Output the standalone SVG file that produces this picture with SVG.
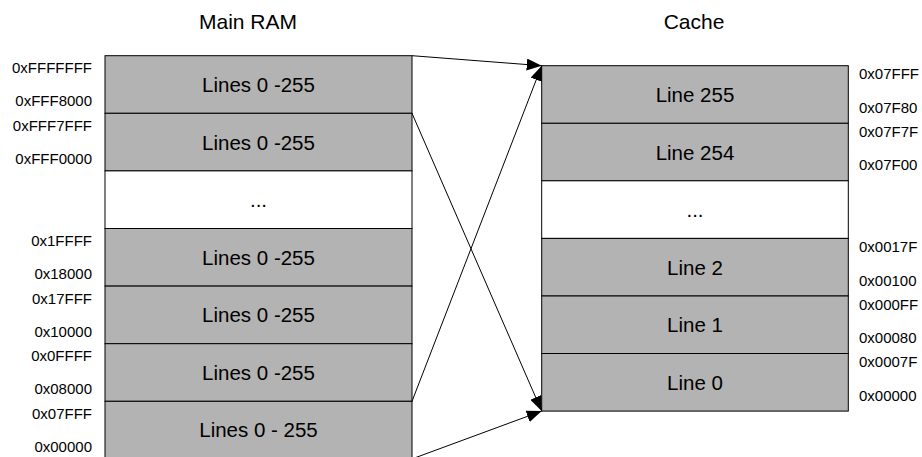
<svg xmlns="http://www.w3.org/2000/svg" width="922" height="457" viewBox="0 0 922 457">
<style>
.row{fill:#b3b3b3;stroke:#000;stroke-width:1}
.gap{fill:#fff;stroke:#000;stroke-width:1}
.lbl{font-family:"Liberation Sans",Arial,sans-serif;font-size:20.5px;fill:#000;text-anchor:middle}
.ttl{font-family:"Liberation Sans",Arial,sans-serif;font-size:21px;fill:#000;text-anchor:middle}
.adl{font-family:"Liberation Sans",Arial,sans-serif;font-size:15px;fill:#000;text-anchor:end}
.adr{font-family:"Liberation Sans",Arial,sans-serif;font-size:15px;fill:#000;text-anchor:start}
.con{stroke:#000;stroke-width:1;fill:none;marker-end:url(#ah)}
</style>
<defs>
<marker id="ah" markerUnits="userSpaceOnUse" markerWidth="16" markerHeight="12" refX="15" refY="6" orient="auto">
<path d="M0,0 L15,6 L0,12 Z" fill="#000"/>
</marker>
</defs>
<rect width="922" height="457" fill="#fff"/>
<text class="ttl" x="248" y="29">Main RAM</text>
<text class="ttl" x="694" y="29">Cache</text>
<g id="ram">
<g id="ram0"><rect class="row" x="105" y="55.7" width="307" height="57.6"/><text class="lbl" x="258.5" y="92">Lines 0 -255</text><text class="adl" x="92" y="73">0xFFFFFFF</text><text class="adl" x="92" y="106">0xFFF8000</text></g>
<g id="ram1"><rect class="row" x="105" y="113.3" width="307" height="57.6"/><text class="lbl" x="258.5" y="149.5">Lines 0 -255</text><text class="adl" x="92" y="130.5">0xFFF7FFF</text><text class="adl" x="92" y="163.5">0xFFF0000</text></g>
<g id="ram2"><rect class="gap" x="105" y="170.9" width="307" height="57.6"/><text class="lbl" x="258.5" y="207">...</text></g>
<g id="ram3"><rect class="row" x="105" y="228.5" width="307" height="57.6"/><text class="lbl" x="258.5" y="264.5">Lines 0 -255</text><text class="adl" x="92" y="246">0x1FFFF</text><text class="adl" x="92" y="279">0x18000</text></g>
<g id="ram4"><rect class="row" x="105" y="286.1" width="307" height="57.6"/><text class="lbl" x="258.5" y="322">Lines 0 -255</text><text class="adl" x="92" y="303.5">0x17FFF</text><text class="adl" x="92" y="336.5">0x10000</text></g>
<g id="ram5"><rect class="row" x="105" y="343.7" width="307" height="57.6"/><text class="lbl" x="258.5" y="379.5">Lines 0 -255</text><text class="adl" x="92" y="361">0x0FFFF</text><text class="adl" x="92" y="394">0x08000</text></g>
<g id="ram6"><rect class="row" x="105" y="401.3" width="307" height="57.6"/><text class="lbl" x="258.5" y="437">Lines 0 - 255</text><text class="adl" x="92" y="418.5">0x07FFF</text><text class="adl" x="92" y="451.5">0x00000</text></g>
</g>
<g id="cache">
<g id="c255"><rect class="row" x="541.7" y="65.7" width="306.6" height="57.6"/><text class="lbl" x="695" y="102">Line 255</text><text class="adr" x="859" y="79">0x07FFF</text><text class="adr" x="859" y="112.5">0x07F80</text></g>
<g id="c254"><rect class="row" x="541.7" y="123.3" width="306.6" height="57.5"/><text class="lbl" x="695" y="159.5">Line 254</text><text class="adr" x="859" y="136.5">0x07F7F</text><text class="adr" x="859" y="170">0x07F00</text></g>
<g id="cgap"><rect class="gap" x="541.7" y="180.8" width="306.6" height="57.6"/><text class="lbl" x="695" y="217">...</text></g>
<g id="c2"><rect class="row" x="541.7" y="238.4" width="306.6" height="57.6"/><text class="lbl" x="695" y="274.5">Line 2</text><text class="adr" x="859" y="252">0x0017F</text><text class="adr" x="859" y="285.5">0x00100</text></g>
<g id="c1"><rect class="row" x="541.7" y="296" width="306.6" height="57.5"/><text class="lbl" x="695" y="332">Line 1</text><text class="adr" x="859" y="309.5">0x000FF</text><text class="adr" x="859" y="343">0x00080</text></g>
<g id="c0"><rect class="row" x="541.7" y="353.5" width="306.6" height="57.6"/><text class="lbl" x="695" y="389.5">Line 0</text><text class="adr" x="859" y="367">0x0007F</text><text class="adr" x="859" y="400.5">0x00000</text></g>
</g>
<g id="connectors">
<line class="con" x1="412" y1="55.7" x2="541.7" y2="65.7"/>
<line class="con" x1="412" y1="401.3" x2="541.7" y2="65.7"/>
<line class="con" x1="412" y1="113.3" x2="541.7" y2="411.1"/>
<line class="con" x1="412" y1="458.9" x2="541.7" y2="411.1"/>
</g>
</svg>
